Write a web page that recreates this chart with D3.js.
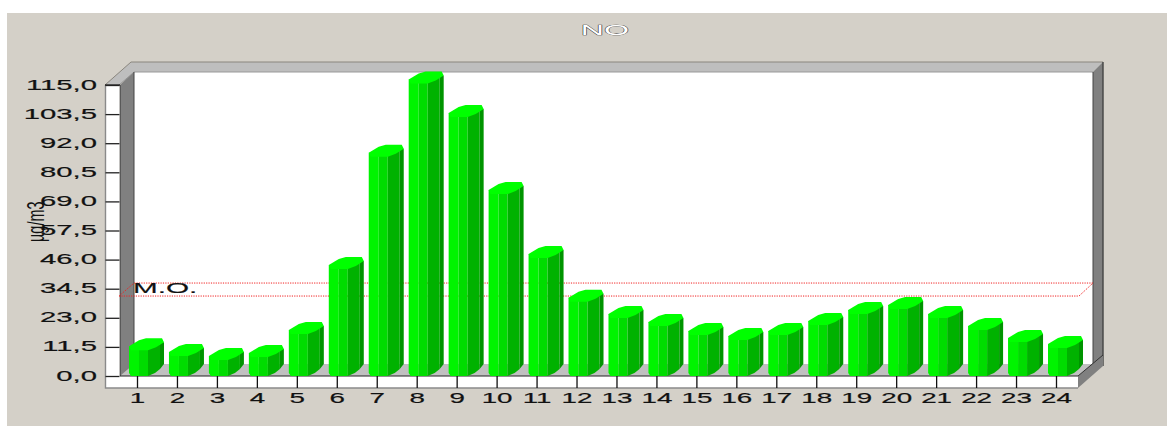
<!DOCTYPE html>
<html><head><meta charset="utf-8">
<script src="https://cdn.jsdelivr.net/npm/d3@7"></script>
<style>html,body{margin:0;padding:0;background:#fff;overflow:hidden}svg{display:block}
text{font-family:"Liberation Sans",Arial,sans-serif;fill:#111}</style></head><body>
<script>
const title = "NO";
const yLabel = "µg/m3";
const hours = ["1","2","3","4","5","6","7","8","9","10","11","12","13","14","15","16","17","18","19","20","21","22","23","24"];
const noValues = [10.2,7.9,6.3,7.5,16.6,42.3,86.6,115.6,102.4,71.9,46.6,29.3,22.9,19.8,16.2,14.2,16.2,20.2,24.5,26.5,22.9,18.2,13.4,11.1];
const yTicks = [0,11.5,23,34.5,46,57.5,69,80.5,92,103.5,115];
const moValue = 31.6;
const moLabel = "M.O.";

const W=1167,H=426;
const svg=d3.select("body").append("svg").attr("width",W).attr("height",H);
const y=d3.scaleLinear().domain([0,115]).range([376,85]);
const x=d3.scalePoint().domain(hours).range([137,1056]);
const line=d3.line();
const poly=(g,pts,fill,stroke)=>g.append("path").attr("d",line(pts)+"Z").attr("fill",fill).attr("stroke",stroke||"none").attr("stroke-width",stroke?1:0);

svg.append("rect").attr("x",7).attr("y",13).attr("width",W-7).attr("height",H-13).attr("fill","#d4d0c8");

// 3D frame
const fr=svg.append("g");
const T=y(115), B=y(0);
poly(fr,[[134,72],[1093,72],[1093,364],[134,364]],"#fff");
poly(fr,[[134,364],[1093,364],[1078,376],[120,376]],"#c0c0c0");
poly(fr,[[105,T],[131,62],[1103,62],[1093,72],[134,72],[119,T]],"#bebebe");
fr.append("path").attr("d",line([[105,T],[131,62],[1103,62]])).attr("fill","none").attr("stroke","#8a867e").attr("stroke-width",1);
fr.append("path").attr("d",line([[119,T],[134,72],[1093,72]])).attr("fill","none").attr("stroke","#999").attr("stroke-width",1);
poly(fr,[[120,T],[134,72],[134,364],[120,B]],"#808080");
fr.append("path").attr("d",line([[134,72],[134,364]])).attr("stroke","#444").attr("stroke-width",1).attr("fill","none");
fr.append("path").attr("d",line([[120,T],[120,B]])).attr("stroke","#333").attr("stroke-width",1).attr("fill","none");
poly(fr,[[1093,72],[1103,62],[1103,356],[1093,364]],"#808080");
fr.append("path").attr("d",line([[1093,72],[1093,364]])).attr("stroke","#444").attr("stroke-width",1).attr("fill","none");
fr.append("path").attr("d",line([[1103,62],[1103,366]])).attr("stroke","#444").attr("stroke-width",1.4).attr("fill","none");
poly(fr,[[105.5,T],[119.5,T],[119.5,388],[105.5,388]],"#fff");
poly(fr,[[119,B],[1078,B],[1078,388],[119,388]],"#fff");
poly(fr,[[1078,B],[1103,355],[1103,366],[1078,388]],"#808080");
fr.append("path").attr("d",line([[1078,B],[1103,355]])).attr("stroke","#333").attr("stroke-width",1).attr("fill","none");
fr.append("path").attr("d",line([[105.5,T],[105.5,388],[1078,388]])).attr("stroke","#8a8a8a").attr("stroke-width",1.4).attr("fill","none");
fr.append("path").attr("d",line([[105,T],[120,T]])).attr("stroke","#111").attr("stroke-width",1.2).attr("fill","none");
fr.append("path").attr("d",line([[120,B],[1078,B]])).attr("stroke","#222").attr("stroke-width",1.2).attr("fill","none");

// M.O. level, dotted
const mo=y(moValue), moBack=mo-13;
svg.append("path").attr("d",line([[119,mo],[1079,mo],[1093,moBack],[134,moBack],[119,mo]]))
  .attr("fill","none").attr("stroke","#f02020").attr("stroke-width",1).attr("stroke-dasharray","1.2,1.2");
svg.append("text").text(moLabel).attr("transform",`translate(133,${mo-3.5}) scale(2.05,1)`).attr("font-size",14.5).attr("stroke","#111").attr("stroke-width",0.15);

// Axes
const axY=svg.append("g").attr("transform","translate(119.5,0)")
  .call(d3.axisLeft(y).tickValues(yTicks).tickSize(14).tickPadding(0).tickFormat(d=>d3.format(".1f")(d).replace(".",",")));
axY.select(".domain").remove();
axY.selectAll("line").attr("stroke","#222").attr("stroke-width",1.3);
axY.selectAll("text").attr("x",null).attr("dy",null).attr("text-anchor","end").attr("font-size",15).attr("fill","#111")
  .attr("stroke","#111").attr("stroke-width",0.2)
  .attr("y",4).attr("transform","translate(-22.5,0) scale(1.95,1)").style("font-family",'"Liberation Sans"');

const axX=svg.append("g").attr("transform","translate(0,376)")
  .call(d3.axisBottom(x).tickSize(12).tickPadding(0));
axX.select(".domain").remove();
axX.selectAll("line").attr("stroke","#111").attr("stroke-width",1.3);
axX.selectAll("text").attr("y",null).attr("dy",null).attr("text-anchor","middle").attr("font-size",15).attr("fill","#111")
  .attr("stroke","#111").attr("stroke-width",0.2)
  .attr("transform","translate(0,27) scale(1.85,1)").style("font-family",'"Liberation Sans"');

// Bars
const bars=svg.append("g").selectAll("g").data(hours).join("g");
bars.each(function(h,i){
  const g=d3.select(this), L=x(h)-8, v=y(noValues[i]), b=y(0);
  poly(g,[[L,v-4],[L+10,v-4],[L+10,b],[L+2,b],[L,b-3]],"#00f400");
  poly(g,[[L+10,v-4],[L+19,v-4],[L+19,b],[L+10,b]],"#00dc00");
  poly(g,[[L+19,v-6],[L+31,v-6],[L+31,b-7],[L+26,b-3],[L+19,b]],"#00b200");
  poly(g,[[L+31,v-8],[L+35,v-8],[L+35,b-12],[L+31,b-7]],"#009400");
  poly(g,[[L,v-4],[L+10,v-10],[L+17,v-12],[L+33,v-12],[L+35,v-8],[L+27,v-3],[L+19,v],[L+2,v]],"#00ff00");
});

// Title & y label
svg.append("text").text(title).attr("transform","translate(605,34.5) scale(2.3,1)").attr("text-anchor","middle")
  .attr("font-size",14).style("fill","#fff").style("paint-order","stroke").attr("stroke","#333").attr("stroke-width",0.6);
svg.append("text").text(yLabel).attr("transform","translate(44,242) rotate(-90) scale(1,1.6)").attr("font-size",14.5).attr("text-anchor","start");
</script></body></html>
